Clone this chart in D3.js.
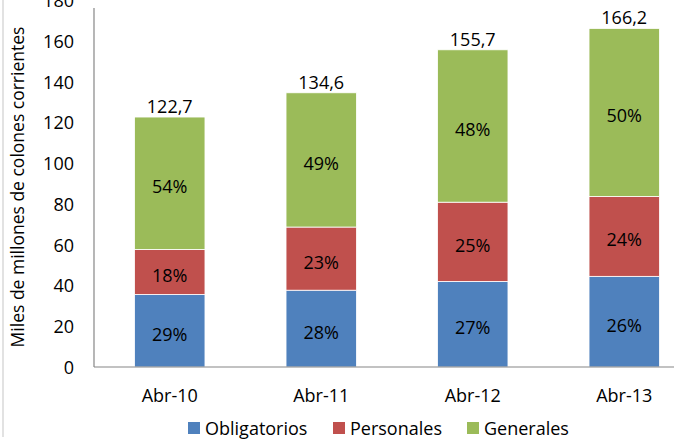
<!DOCTYPE html>
<html>
<head>
<meta charset="utf-8">
<script src="https://cdn.jsdelivr.net/npm/d3@7"></script>
<style>
  body { margin: 0; background: #fff; }
  text { font-family: "Open Sans", sans-serif; fill: #000; }
</style>
</head>
<body>
<div id="chart"></div>
<script>
// data
var periods = ["Abr-10", "Abr-11", "Abr-12", "Abr-13"];
var seriesNames = ["Obligatorios", "Personales", "Generales"];
var obligatorios = [35.6, 37.7, 42.0, 44.5];
var personales = [22.1, 31.0, 38.9, 39.2];
var generales = [65.0, 65.9, 74.8, 82.5];
var totals = ["122,7", "134,6", "155,7", "166,2"];
var pctObligatorios = ["29%", "28%", "27%", "26%"];
var pctPersonales = ["18%", "23%", "25%", "24%"];
var pctGenerales = ["54%", "49%", "48%", "50%"];
var yTicks = [0, 20, 40, 60, 80, 100, 120, 140, 160, 180];

var colors = ["#4F81BD", "#C0504D", "#9BBB59"];

var width = 674, height = 441;
var svg = d3.select("#chart").append("svg")
  .attr("width", width).attr("height", height);

// outer chart frame (only the left edge shows in the crop)
svg.append("line")
  .attr("x1", 3).attr("x2", 3).attr("y1", 0).attr("y2", 437)
  .attr("stroke", "#d9d9d9").attr("stroke-width", 1.5);

var x = d3.scaleBand().domain(periods).range([94, 700]).paddingInner(0.535).paddingOuter(0.2675);
var y = d3.scaleLinear().domain([0, 180]).range([367, 0.3]);

var rows = periods.map(function (p, i) {
  return { period: p, Obligatorios: obligatorios[i], Personales: personales[i], Generales: generales[i],
    labels: [pctObligatorios[i], pctPersonales[i], pctGenerales[i]], total: totals[i] };
});
var stacked = d3.stack().keys(seriesNames)(rows);

// bars
var layers = svg.append("g").selectAll("g")
  .data(stacked).enter().append("g")
  .attr("fill", function (d, i) { return colors[i]; });

layers.selectAll("rect")
  .data(function (d) { return d; })
  .enter().append("rect")
  .attr("x", function (d) { return x(d.data.period); })
  .attr("width", x.bandwidth())
  .attr("y", function (d) { return y(d[1]); })
  .attr("height", function (d) { return y(d[0]) - y(d[1]); })
  .attr("stroke", "#fff").attr("stroke-width", 0.8);

// percentage labels inside segments
layers.each(function (layer, li) {
  d3.select(this).selectAll("text")
    .data(layer).enter().append("text")
    .attr("x", function (d) { return x(d.data.period) + x.bandwidth() / 2; })
    .attr("y", function (d) { return (y(d[0]) + y(d[1])) / 2 + 10; })
    .attr("text-anchor", "middle")
    .style("font-size", "18px")
    .text(function (d) { return d.data.labels[li]; });
});

// totals on top
var topLayer = stacked[stacked.length - 1];
svg.append("g").selectAll("text")
  .data(topLayer).enter().append("text")
  .attr("x", function (d) { return x(d.data.period) + x.bandwidth() / 2; })
  .attr("y", function (d) { return y(d[1]) - 4; })
  .attr("text-anchor", "middle")
  .style("font-size", "18px")
  .text(function (d) { return d.data.total; });

// y axis
var yAxis = svg.append("g").attr("transform", "translate(94,0)")
  .call(d3.axisLeft(y).tickValues(yTicks).tickSize(0).tickPadding(20));
yAxis.select(".domain").remove();
yAxis.selectAll("text").style("font-size", "18px").attr("dy", "0.35em")
  .style("font-family", "'Open Sans', sans-serif").attr("fill", "#000");
svg.append("line")
  .attr("x1", 94).attr("x2", 94).attr("y1", 8).attr("y2", y(0))
  .attr("stroke", "#868686").attr("stroke-width", 1.2);

// x axis
var xAxis = svg.append("g").attr("transform", "translate(0," + y(0) + ")")
  .call(d3.axisBottom(x).tickSize(0).tickPadding(22));
xAxis.select(".domain").remove();
xAxis.selectAll("text").style("font-size", "18px")
  .style("font-family", "'Open Sans', sans-serif").attr("fill", "#000");
svg.append("line")
  .attr("x1", 94).attr("x2", width).attr("y1", y(0)).attr("y2", y(0))
  .attr("stroke", "#868686").attr("stroke-width", 1.2);

// y title
svg.append("text")
  .attr("transform", "translate(24," + 187 + ") rotate(-90)")
  .attr("text-anchor", "middle")
  .style("font-size", "17.5px")
  .text("Miles de millones de colones corrientes");

// legend
var legendX = [188, 333, 467];
var legend = svg.append("g").selectAll("g")
  .data(seriesNames).enter().append("g")
  .attr("transform", function (d, i) { return "translate(" + legendX[i] + ",422)"; });
legend.append("rect").attr("width", 12).attr("height", 12)
  .attr("fill", function (d, i) { return colors[i]; });
legend.append("text").attr("x", 17).attr("y", 13)
  .style("font-size", "18px")
  .text(function (d) { return d; });
</script>
</body>
</html>
